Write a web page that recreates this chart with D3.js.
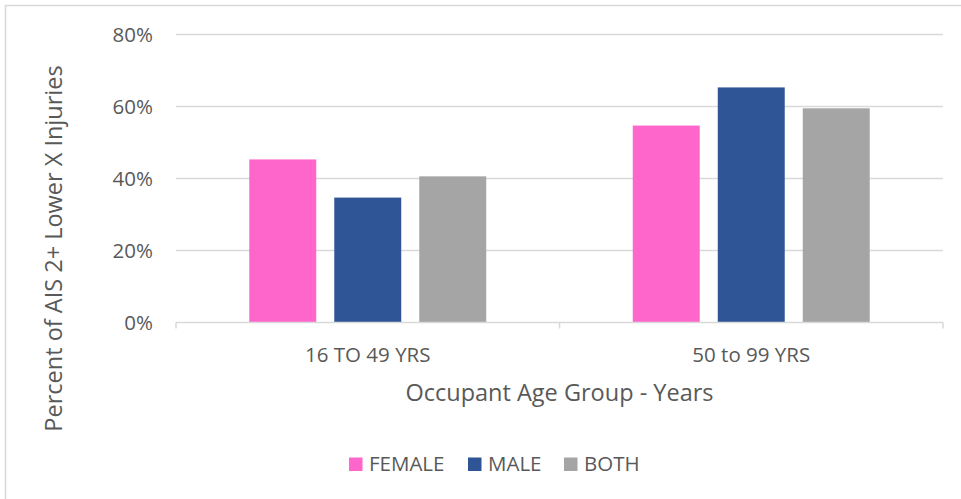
<html>
<head>
  <style>
    body { margin: 0; background: #fff; }
    text { font-family: "Open Sans", sans-serif; fill: #595959; }
  </style>
  <script src="https://d3js.org/d3.v7.min.js"></script>
</head>
<body>
  <svg></svg>
  <script type="text/javascript">
    var categories = ["16 TO 49 YRS", "50 to 99 YRS"]
    var series = ["FEMALE", "MALE", "BOTH"]
    var female = [0.453, 0.547]
    var male = [0.347, 0.653]
    var both = [0.406, 0.595]
    var yTicks = [0, 0.2, 0.4, 0.6, 0.8]
    var colors = ["#FF66CC", "#2F5597", "#A5A5A5"]

    var w = 961, h = 499
    var plotLeft = 176, plotRight = 943, plotTop = 34.5, plotBottom = 322.5

    var values = [female, male, both]
    var rows = categories.map(function(c, i) {
      return { cat: c, vals: series.map(function(s, j) { return { key: s, v: values[j][i], color: colors[j] } }) }
    })

    var svg = d3.select("svg").attr("width", w).attr("height", h)

    // chart frame (only left and top edges are visible in the window)
    svg.append("rect")
      .attr("x", 5.5).attr("y", 5.5)
      .attr("width", 1200).attr("height", 1200)
      .attr("fill", "none").attr("stroke", "#d9d9d9").attr("stroke-width", 1.5)

    var x0 = d3.scaleBand().domain(categories).range([plotLeft, plotRight]).padding(0)
    var x1 = d3.scaleBand().domain(series).range([0, x0.bandwidth()])
      .paddingInner(0.212).paddingOuter(0.862)
    var y = d3.scaleLinear().domain([0, 0.8]).range([plotBottom, plotTop])

    // gridlines
    svg.append("g").selectAll("line")
      .data(yTicks.filter(function(d) { return d > 0 }))
      .enter().append("line")
      .attr("x1", plotLeft).attr("x2", plotRight)
      .attr("y1", function(d) { return y(d) }).attr("y2", function(d) { return y(d) })
      .attr("stroke", "#d9d9d9").attr("stroke-width", 1.3)

    // y axis labels
    var yAxis = d3.axisLeft(y).tickValues(yTicks).tickFormat(d3.format(".0%")).tickSize(0).tickPadding(23)
    var ya = svg.append("g").attr("transform", "translate(" + plotLeft + ",0)").call(yAxis)
    ya.select(".domain").remove()
    ya.selectAll("text").style("font-size", "20.5px").style("font-family", "Open Sans").attr("fill", "#595959")

    // bars
    var groups = svg.append("g").selectAll("g")
      .data(rows).enter().append("g")
      .attr("transform", function(d) { return "translate(" + x0(d.cat) + ",0)" })
    groups.selectAll("rect")
      .data(function(d) { return d.vals })
      .enter().append("rect")
      .attr("x", function(d) { return x1(d.key) })
      .attr("width", x1.bandwidth())
      .attr("y", function(d) { return y(d.v) })
      .attr("height", function(d) { return plotBottom - y(d.v) })
      .attr("fill", function(d) { return d.color })

    // x axis
    var xAxis = d3.axisBottom(x0).tickSize(0).tickPadding(24)
    var xa = svg.append("g").attr("transform", "translate(0," + plotBottom + ")").call(xAxis)
    xa.select(".domain").attr("stroke", "#d9d9d9").attr("stroke-width", 1.5)
      .attr("d", "M" + plotLeft + ",0H" + plotRight)
    xa.selectAll("text").style("font-size", "20.5px").style("font-family", "Open Sans").attr("fill", "#595959")
      .attr("dy", "0").attr("y", 39.5)
    var edges = [plotLeft, x0(categories[1]), plotRight]
    xa.selectAll("line.sep").data(edges).enter().append("line")
      .attr("x1", function(d) { return d }).attr("x2", function(d) { return d })
      .attr("y1", 0).attr("y2", 6)
      .attr("stroke", "#d9d9d9").attr("stroke-width", 1.5)

    // axis titles
    svg.append("text")
      .attr("x", (plotLeft + plotRight) / 2).attr("y", 401)
      .attr("text-anchor", "middle").style("font-size", "23.5px")
      .text("Occupant Age Group - Years")
    svg.append("text")
      .attr("transform", "translate(62,248.5) rotate(-90)")
      .attr("text-anchor", "middle").style("font-size", "23.5px")
      .text("Percent of AIS 2+ Lower X Injuries")

    // legend
    var legX = [349, 468, 564]
    var leg = svg.append("g").selectAll("g")
      .data(series).enter().append("g")
      .attr("transform", function(d, i) { return "translate(" + legX[i] + ",457.5)" })
    leg.append("rect").attr("width", 13.5).attr("height", 13.5)
      .attr("fill", function(d, i) { return colors[i] })
    leg.append("text").attr("x", 20).attr("y", 13).style("font-size", "20.5px")
      .text(function(d) { return d })
  </script>
</body>
</html>
